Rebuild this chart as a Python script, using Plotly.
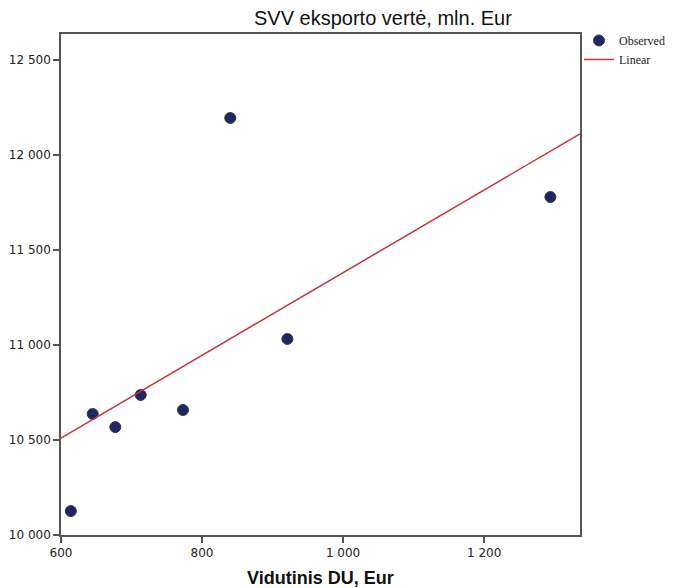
import numpy as np
import plotly.graph_objects as go

# Data
du_eur = [614, 645, 677, 713, 773, 840, 921, 1294]            # Vidutinis DU, Eur
svv_export = [10126, 10637, 10568, 10737, 10658, 12195, 11032, 11779]  # SVV eksporto vertė, mln. Eur

x_range = [600, 1336]
y_range = [10000, 12637]
x_ticks = [600, 800, 1000, 1200]
y_ticks = [10000, 10500, 11000, 11500, 12000, 12500]

slope, intercept = np.polyfit(du_eur, svv_export, 1)
line_x = np.array(x_range, dtype=float)
line_y = slope * line_x + intercept

fig = go.Figure()
fig.add_trace(go.Scatter(
    x=du_eur, y=svv_export, mode="markers", name="Observed",
    marker=dict(size=11, color="#1f2566", line=dict(color="#3a3a3a", width=1)),
    cliponaxis=False,
))
fig.add_trace(go.Scatter(
    x=line_x, y=line_y, mode="lines", name="Linear",
    line=dict(color="#c4363a", width=1.5),
))

axis_common = dict(
    showgrid=False, zeroline=False, showline=True, linecolor="#555555", linewidth=1.5,
    mirror=True, ticks="outside", ticklen=6, tickcolor="#555555", tickwidth=1.5,
    tickfont=dict(family="DejaVu Sans", size=12, color="#222222"),
    tickformat=",d", automargin=False,
)

# page body has an 8px margin, so the figure is sized to fit the window
fig.update_layout(
    width=667, height=580,
    margin=dict(l=53, r=95, t=26, b=53, autoexpand=False),
    paper_bgcolor="white", plot_bgcolor="white",
    separators=". ",
    showlegend=True,
    legend=dict(x=0.998, y=1.016, xanchor="left", yanchor="top",
                font=dict(family="Liberation Serif", size=12, color="#222222"),
                bgcolor="rgba(0,0,0,0)", tracegroupgap=0, itemwidth=30),
    xaxis=dict(range=x_range, tickvals=x_ticks, **axis_common),
    yaxis=dict(range=y_range, tickvals=y_ticks, **axis_common),
    annotations=[
        dict(text="SVV eksporto vertė, mln. Eur", xref="paper", yref="paper",
             x=0.62, y=1.0, xanchor="center", yanchor="bottom", yshift=3, showarrow=False,
             font=dict(family="Liberation Sans", size=20, color="#111111")),
        dict(text="<b>Vidutinis DU, Eur</b>", xref="paper", yref="paper",
             x=0.5, y=0, xanchor="center", yanchor="top", yshift=-31, showarrow=False,
             font=dict(family="Liberation Sans", size=18, color="#111111")),
    ],
)

fig.write_html("out.html")
